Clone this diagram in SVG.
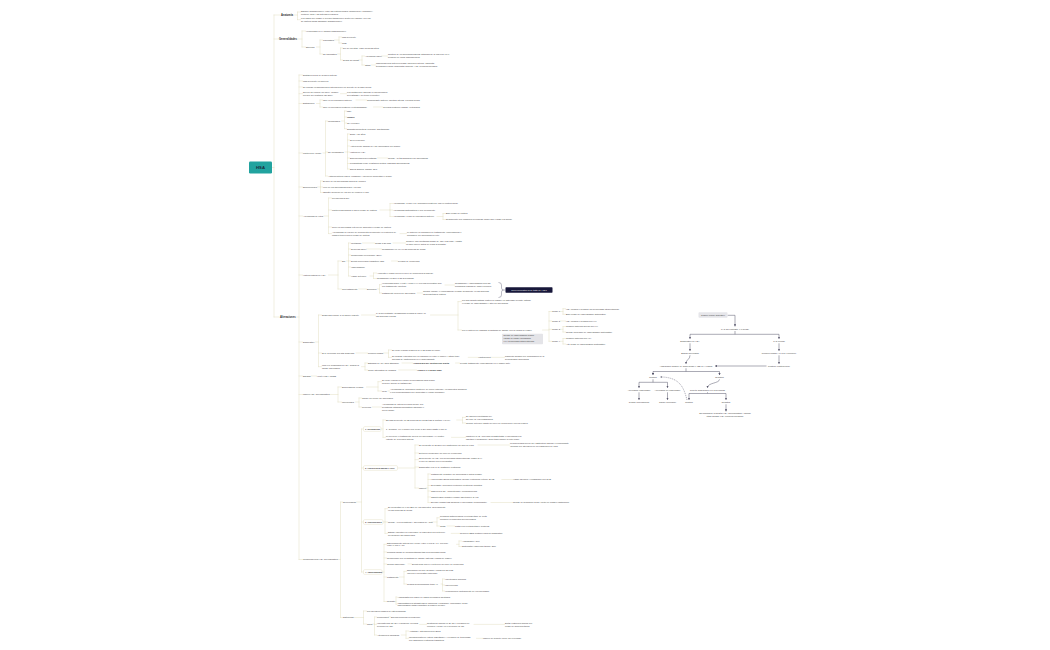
<svg xmlns="http://www.w3.org/2000/svg" width="1050" height="650" viewBox="0 0 1050 650">
<style>
text{font-family:"Liberation Sans",Arial,sans-serif;font-size:2.2px;fill:#3a3a3a}
.l1{font-size:2.6px;font-weight:bold;fill:#2c2c2c}
.b{font-weight:bold}
.c{fill:none;stroke:#e0dbbd;stroke-width:0.45;stroke-linecap:round}
.d{fill:none;stroke:#57566b;stroke-width:0.5}
.dd{fill:none;stroke:#57566b;stroke-width:0.45;stroke-dasharray:1.2 0.8}
.bx{fill:#fff;stroke:#e0dbbd;stroke-width:0.4}
.m{text-anchor:middle}
</style>
<defs>
<marker id="ah" viewBox="0 0 4 4" refX="3.6" refY="2" markerWidth="2.2" markerHeight="2.2" markerUnits="userSpaceOnUse" orient="auto"><path d="M0,0 L4,2 L0,4 z" fill="#57566b"/></marker>
</defs>
<rect width="1050" height="650" fill="#fff"/>

<g id="connectors">
<path class="c" d="M272,167.5 H274 M274,15 V317 M274,15 H280 M274,39 H278.5 M274,317 H279"/>
<path class="c" d="M293,15 H297.5 M297.5,12 V19.7 M297.5,12 H300.5 M297.5,19.7 H300.5"/>
<path class="c" d="M297,39 H302 M302,31 V47 M302,31 H305.5 M302,47 H305.5"/>
<path class="c" d="M316.5,47 H320 M320,40 V54 M320,40 H322.5 M320,54 H322.5"/>
<path class="c" d="M334.5,40 H339 M339,37 V43 M339,37 H341.5 M339,43 H341.5"/>
<path class="c" d="M337.5,54 H340.5 M340.5,48 V60 M340.5,48 H342.5 M340.5,60 H342.5"/>
<path class="c" d="M358.5,60 H362 M362,56 V65 M362,56 H364.5 M362,65 H364.5 M381.5,56 H387.5 M371,65 H375.5"/>
<path class="c" d="M296.5,317 H299 M299,75 V559.5 M299,75 H302.5 M299,81 H302.5 M299,87 H302.5 M299,93.7 H302.5 M299,103.5 H302.5 M299,153 H302.5 M299,187 H302.5 M299,216 H302.5 M299,275 H302.5 M299,342 H302.5 M299,376 H302.5 M299,394.5 H302.5 M299,559.5 H302.5"/>
<path class="c" d="M340.5,93.7 H346.5 M316.5,103.5 H320 M320,100 V107 M320,100 H322.5 M320,107 H322.5 M356,100 H366.5 M373.5,107 H382.5"/>
<path class="c" d="M323,153 H325.5 M325.5,121 V176 M325.5,121 H327.5 M325.5,152 H327.5 M325.5,176 H327.5"/>
<path class="c" d="M341.5,121 H344.5 M344.5,111 V128.7 M344.5,111 H346.5 M344.5,117 H346.5 M344.5,123 H346.5 M344.5,128.7 H346.5"/>
<path class="c" d="M345,152 H347.5 M347.5,134 V169 M347.5,134 H349.5 M347.5,140 H349.5 M347.5,146 H349.5 M347.5,152 H349.5 M347.5,158 H349.5 M347.5,163.5 H349.5 M347.5,169 H349.5 M377.5,158 H387.5"/>
<path class="c" d="M317.5,187 H320.5 M320.5,181 V192.5 M320.5,181 H322.5 M320.5,187 H322.5 M320.5,192.5 H322.5"/>
<path class="c" d="M324,216 H328.5 M328.5,198 V233.6 M328.5,198 H331.5 M328.5,210 H331.5 M328.5,227 H331.5 M328.5,233.6 H331.5"/>
<path class="c" d="M380,210 H390 M390,203.5 V216.5 M390,203.5 H392.5 M390,210 H392.5 M390,216.5 H392.5 M437,216.5 H443 M443,213.5 V219.5 M443,213.5 H445.5 M443,219.5 H445.5 M400,233.6 H406.5"/>
<path class="c" d="M328.5,275 H338 M338,261 V289 M338,261 H341.5 M338,289 H341.5"/>
<path class="c" d="M346.5,261 H348.5 M348.5,243 V276 M348.5,243 H350.5 M348.5,249 H350.5 M348.5,255 H350.5 M348.5,261 H350.5 M348.5,267 H350.5 M348.5,276 H350.5 M362.5,243 H374.5 M393,243 H405.5 M366.5,249 H381.5 M391.5,261 H397.5 M370,276 H373.5 M373.5,273 V278.5 M373.5,273 H376.5 M373.5,278.5 H376.5"/>
<path class="c" d="M358.7,289 H366.5 M377.2,289 H379.5 M379.5,284.7 V293 M379.5,284.7 H381.5 M379.5,293 H381.5 M445,285 H454.5 M417.2,293 H422.5"/>
<path class="c" d="M315.5,342 H318.5 M318.5,315 V366.7 M318.5,315 H321.5 M318.5,353 H321.5 M318.5,366.7 H321.5"/>
<path class="c" d="M361.5,315 H375.5 M430.5,315 H458 M458,301.6 V330 M458,301.6 H461.5 M458,330 H461.5 M542.5,330 H549 M549,311.5 V341.3 M549,311.5 H551.5 M549,321 H551.5 M549,329.3 H551.5 M549,341.3 H551.5"/>
<path class="c" d="M560,311.5 H563 M563,308.7 V314.3 M563,308.7 H565.5 M563,314.3 H565.5 M560,321 H565.5 M560,329.3 H563 M563,326.5 V332 M563,326.5 H565.5 M563,332 H565.5 M560,341.3 H563 M563,338.5 V344 M563,338.5 H565.5 M563,344 H565.5"/>
<path class="c" d="M356,353 H367.5 M383.6,353 H388.5 M388.5,350 V357.35 M388.5,350 H391.5 M388.5,357.35 H391.5 M468.2,357.35 H477.5 M490.5,357.35 H504.5"/>
<path class="c" d="M361.5,366.7 H365 M365,363 V370 M365,363 H367.5 M365,370 H367.5 M402,363 H412.5 M455.5,363 H459.5 M398.7,370 H416.5 M311.2,376 H316.5"/>
<path class="c" d="M329.5,394.5 H338 M338,387 V402 M338,387 H341.5 M338,402 H341.5 M366.5,387 H378 M378,381.7 V391 M378,381.7 H381.5 M378,391 H381.5 M388,391 H389.5 M355.5,402 H359 M359,398 V407 M359,398 H361.5 M359,407 H361.5 M372.2,407 H381.5"/>
<path class="c" d="M338,559.5 H340.5 M340.5,502 V617.5 M340.5,502 H342.5 M340.5,617.5 H342.5 M356.5,502 H361.5 M361.5,429 V572 M361.5,429 H363.5 M361.5,468 H363.5 M361.5,522 H363.5 M361.5,572 H363.5"/>
<path class="c" d="M381,429 H383 M383,420 V437.35 M383,420 H385.5 M383,437.35 H385.5 M456.7,420 H462.5 M462.5,417.35 V423 M462.5,417.35 H465.5 M462.5,423 H465.5 M451.5,437.35 H465.5"/>
<path class="c" d="M397.5,468 H415 M415,445 V488 M415,445 H418.5 M415,453 H418.5 M415,459.7 H418.5 M415,467 H418.5 M415,488 H418.5 M478,445 H509.5"/>
<path class="c" d="M426,488 H428 M428,474 V502.5 M428,474 H430.5 M428,479.5 H430.5 M428,485.5 H430.5 M428,491 H430.5 M428,497 H430.5 M428,502.5 H430.5 M501.8,479.5 H512.5 M491,502.5 H512.5"/>
<path class="c" d="M383,522 H385 M385,508.7 V533.4 M385,508.7 H387.5 M385,522 H387.5 M385,533.4 H387.5 M431.8,522 H437 M437,517.8 V526 M437,517.8 H439.5 M437,526 H439.5 M447,526 H454.5 M451.2,533.4 H459.5"/>
<path class="c" d="M382,572 H384 M384,544.3 V601.5 M384,544.3 H386.5 M384,552 H386.5 M384,558 H386.5 M384,564 H386.5 M384,577 H386.5 M384,601.5 H386.5 M456.5,544.3 H459 M459,541 V546.5 M459,541 H461.5 M459,546.5 H461.5 M408,564 H411.5"/>
<path class="c" d="M399.5,577 H404 M404,571.35 V584 M404,571.35 H406.5 M404,584 H406.5 M441,584 H442.5 M442.5,579 V591 M442.5,579 H444.5 M442.5,585 H444.5 M442.5,591 H444.5 M395,601.5 H396 M396,597 V604.1 M396,597 H397 M396,604.1 H397"/>
<path class="c" d="M354.5,617.5 H363.5 M363.5,611 V624 M363.5,611 H366.5 M363.5,624 H366.5 M373,624 H374.5 M374.5,617 V635 M374.5,617 H376.5 M374.5,624.4 H376.5 M374.5,635 H376.5 M388.5,617 H390.5 M419.7,624.4 H426.5 M474,624.4 H504.5 M401.3,635 H406 M406,631 V638.35 M406,631 H408.5 M406,638.35 H408.5 M476.5,638.35 H482.5"/>
<path d="M498.5,282.5 Q501.5,282.5 501.5,285 V288 Q501.5,290 503.5,290 Q501.5,290 501.5,292 V295 Q501.5,297.5 498.5,297.5 M503.5,290 H505.5" fill="none" stroke="#6a6a80" stroke-width="0.45"/>
<g id="flow-connectors">
<path class="d" d="M727.5,315.3 H735 V326.3" marker-end="url(#ah)"/>
<path class="d" d="M735,331 V334.3 H690 V338.8" marker-end="url(#ah)"/>
<path class="d" d="M735,334.3 H779 V338.8" marker-end="url(#ah)"/>
<path class="d" d="M690,343.3 V350.8" marker-end="url(#ah)"/>
<path class="d" d="M779,343.3 V350.8" marker-end="url(#ah)"/>
<path class="d" d="M690,355.3 C690,360 686,359 686,363.8" marker-end="url(#ah)"/>
<path class="d" d="M779,355.3 V363.8" marker-end="url(#ah)"/>
<path class="d" d="M766.5,366 H715" marker-end="url(#ah)"/>
<path class="d" d="M686,368.3 V371.5 H653 V375" marker-end="url(#ah)"/>
<path class="d" d="M686,371.5 H719.5 V375" marker-end="url(#ah)"/>
<path class="d" d="M653,379.3 V382.3 H639 V387.8" marker-end="url(#ah)"/>
<path class="d" d="M653,382.3 H667.5 V387.8" marker-end="url(#ah)"/>
<path class="d" d="M639,392.3 V399.8" marker-end="url(#ah)"/>
<path class="d" d="M667.5,392.3 V399.8" marker-end="url(#ah)"/>
<path class="d" d="M719.5,379.3 C719.5,383.5 707.5,382.5 707.5,387.8" marker-end="url(#ah)"/>
<path class="d" d="M707.5,392.3 V393.5 H689 V399.8" marker-end="url(#ah)"/>
<path class="d" d="M707.5,393.5 H726 V399.8" marker-end="url(#ah)"/>
<path class="dd" d="M687,400 C684,388 680,377 660.5,377" marker-end="url(#ah)"/>
<path class="d" d="M726,404.3 V411.3" marker-end="url(#ah)"/>
</g>
</g>

<g id="root"><rect x="249" y="161.5" width="23" height="12" rx="1.2" fill="#22a39f"/><text x="260.5" y="169" class="m" font-size="4.2" font-weight="bold" fill="#1b2838" style="font-size:4.2px;fill:#1b2838;font-weight:bold">HSA</text></g>

<g id="n-anatomia"><text x="281" y="15.9" class="l1">Anatomía</text></g>
<g id="n-a1"><text x="301" y="12.1">Espacio subaracnoideo: entre las leptomeninges (aracnoides y piamadre),</text><text x="301" y="14.8">contiene LCR y las arterias cerebrales</text></g>
<g id="n-a2"><text x="301" y="19.2">Los vasos que irrigan el cerebro transcurren dentro del espacio, por eso</text><text x="301" y="21.9">su ruptura causa sangrado subaracnoideo</text></g>

<g id="n-generalidades"><text x="279" y="39.9" class="l1">Generalidades</text></g>
<g id="n-g1"><text x="306" y="31.8">Hemorragia en el espacio subaracnoideo</text></g>
<g id="n-g2"><text x="306" y="47.8">Etiología</text></g>
<g id="n-g21"><text x="323" y="40.8">Traumática</text></g>
<g id="n-g211"><text x="342" y="37.8">Más frecuente</text></g>
<g id="n-g212"><text x="342" y="43.8">TCE</text></g>
<g id="n-g22"><text x="323" y="54.8">No traumática</text></g>
<g id="n-g221"><text x="343" y="48.8">5% de los ictus, edad media 55 años</text></g>
<g id="n-g222"><text x="343" y="60.8">Según su causa</text></g>
<g id="n-g2221"><text x="365" y="56.8">Aneurisma (85%)</text></g>
<g id="n-g2221a"><text x="388" y="55.45">Ruptura de un aneurisma sacular intracraneal, la mayoría en el</text><text x="388" y="58.15">polígono de Willis (bifurcaciones)</text></g>
<g id="n-g2222"><text x="365" y="65.8">Otras</text></g>
<g id="n-g2222a"><text x="376" y="64.45">Malformaciones arteriovenosas, disección arterial, vasculitis,</text><text x="376" y="67.15">trombosis venosa, angiopatía amiloide, HSA perimesencefálica</text></g>

<g id="n-alteraciones"><text x="280" y="317.9" class="l1">Alteraciones</text></g>
<g id="n-u1"><text x="303" y="75.8">Dilatación focal de la pared arterial</text></g>
<g id="n-u2"><text x="303" y="81.8">Más frecuente en mujeres</text></g>
<g id="n-u3"><text x="303" y="87.8">Se forman en bifurcaciones arteriales por un defecto de la capa media</text></g>
<g id="n-u4"><text x="303" y="93.15">Suelen ser únicos (70-80%), aunque</text><text x="303" y="95.85">pueden ser múltiples (20-30%)</text></g>
<g id="n-u41"><text x="347" y="93.15">Los múltiples se asocian a enfermedades</text><text x="347" y="95.85">hereditarias y del tejido conectivo</text></g>
<g id="n-u5"><text x="303" y="104.3">Distribución</text></g>
<g id="n-u51"><text x="323" y="100.8">85% en la circulación anterior</text></g>
<g id="n-u511"><text x="367" y="100.8">Comunicante anterior, carótida interna, cerebral media</text></g>
<g id="n-u52"><text x="323" y="107.8">15% en circulación posterior (vertebrobasilar)</text></g>
<g id="n-u521"><text x="383" y="107.8">Cerebral posterior, basilar, vertebrales</text></g>

<g id="n-fr"><text x="303" y="153.8">Factores de riesgo</text></g>
<g id="n-fr1"><text x="328" y="121.8">Modificables</text></g>
<g id="n-fr11"><text x="347" y="111.8" class="b">HTA</text></g>
<g id="n-fr12"><text x="347" y="117.8" class="b">Tabaco</text></g>
<g id="n-fr13"><text x="347" y="123.8">OH excesivo</text></g>
<g id="n-fr14"><text x="347" y="129.5">Simpaticomiméticos (cocaína, anfetaminas)</text></g>
<g id="n-fr2"><text x="328" y="152.8">No modificables</text></g>
<g id="n-fr21"><text x="350" y="134.8">Edad &gt; 50 años</text></g>
<g id="n-fr22"><text x="350" y="140.8">Sexo femenino</text></g>
<g id="n-fr23"><text x="350" y="146.8">Antecedente familiar de HSA/aneurisma (1er grado)</text></g>
<g id="n-fr24"><text x="350" y="152.8">Historia de HSA</text></g>
<g id="n-fr25"><text x="350" y="158.8">Enfermedades hereditarias</text></g>
<g id="n-fr251"><text x="388" y="158.8">Riesgo ↑ si ≥2 familiares con aneurismas</text></g>
<g id="n-fr26"><text x="350" y="164.3">Poliquistosis renal, coartación aórtica, displasia fibromuscular</text></g>
<g id="n-fr27"><text x="350" y="169.8">Ehlers-Danlos, Marfan, NF1</text></g>
<g id="n-fr3"><text x="328" y="176.8">Anticonceptivos orales, embarazo y puerperio aumentan el riesgo</text></g>

<g id="n-epi"><text x="303" y="187.8">Epidemiología</text></g>
<g id="n-epi1"><text x="323" y="181.8">El 80% de los aneurismas nunca se rompen</text></g>
<g id="n-epi2"><text x="323" y="187.8">90% de los aneurismas miden &lt;10 mm</text></g>
<g id="n-epi3"><text x="323" y="193.3">Tamaño promedio de los que se rompen: 7 mm</text></g>

<g id="n-nr"><text x="303" y="216.8">Aneurismas no rotos</text></g>
<g id="n-nr1"><text x="332" y="198.8">Prevalencia 2-3%</text></g>
<g id="n-nr2"><text x="332" y="210.8">Factores asociados a mayor riesgo de ruptura</text></g>
<g id="n-nr21"><text x="393" y="204.3">Aneurismas &gt;7 mm o de circulación posterior: mayor ruptura anual</text></g>
<g id="n-nr22"><text x="393" y="210.8">Aneurismas sintomáticos o con crecimiento</text></g>
<g id="n-nr23"><text x="393" y="217.3">Aneurismas &lt;7 mm de circulación anterior</text></g>
<g id="n-nr231"><text x="446" y="214.3">Bajo riesgo de ruptura</text></g>
<g id="n-nr232"><text x="446" y="220.3">Seguimiento con imágenes periódicas (angio-RM o angio-TC anual)</text></g>
<g id="n-nr3"><text x="332" y="227.8">Tener un aneurisma roto previo aumenta el riesgo de ruptura</text></g>
<g id="n-nr4"><text x="332" y="233.05">Aneurismas en los que se documenta crecimiento en controles de</text><text x="332" y="235.75">imagen tienen mayor riesgo de ruptura</text></g>
<g id="n-nr41"><text x="407" y="233.05">Lo anterior es indicación de tratamiento (endovascular o</text><text x="407" y="235.75">quirúrgico) del aneurisma no roto</text></g>

<g id="n-hn"><text x="303" y="275.8">Historia natural de HSA</text></g>
<g id="n-hn1"><text x="342" y="261.8">Sin</text></g>
<g id="n-hn11"><text x="351" y="243.8">Mortalidad</text></g>
<g id="n-hn111"><text x="375" y="243.8">Global a 30 días</text></g>
<g id="n-hn1111"><text x="406" y="242.45">Confiere una mortalidad global de 45% a 30 días, y hasta</text><text x="406" y="245.15">un 15% muere antes de llegar al hospital</text></g>
<g id="n-hn12"><text x="351" y="249.8">Secuelas (30%)</text></g>
<g id="n-hn121"><text x="382" y="249.8">Resangrado en 4% en las primeras 24 horas</text></g>
<g id="n-hn13"><text x="351" y="255.8">Compromiso neurológico (20%)</text></g>
<g id="n-hn14"><text x="351" y="261.8">Déficit neurológico transitorio (2/3)</text></g>
<g id="n-hn141"><text x="398" y="261.8">Pérdida de conciencia</text></g>
<g id="n-hn15"><text x="351" y="267.8">Vasoespasmo</text></g>
<g id="n-hn16"><text x="351" y="276.8">Vigilar deterioro</text></g>
<g id="n-hn161"><text x="377" y="273.8">Aumenta el riesgo con peor nivel de conciencia al ingreso</text></g>
<g id="n-hn162"><text x="377" y="279.3">Resangrado en 20% a las 2 semanas</text></g>
<g id="n-hn2"><text x="342" y="289.8">Con tratamiento</text></g>
<g id="n-hn21"><text x="367" y="289.8">Evolución</text></g>
<g id="n-hn211"><text x="382" y="284.15">Hemorragia grave (Hunt y Hess IV-V) con mal pronóstico aún</text><text x="382" y="286.85">con tratamiento oportuno</text></g>
<g id="n-hn2111"><text x="455" y="284.45">Resangrado y vasoespasmo son las</text><text x="455" y="287.15">principales causas de mala evolución</text></g>
<g id="n-hn212"><text x="382" y="293.8">Tratamiento precoz del aneurisma</text></g>
<g id="n-hn2121"><text x="423" y="292.45">Cirugía (clipaje) o endovascular (coiling) idealmente en las primeras</text><text x="423" y="295.15">72 horas tras la ruptura</text></g>
<g id="n-hn-sum"><rect x="505.5" y="287.3" width="47" height="5.4" rx="0.6" fill="#17173a"/><text x="529" y="290.8" class="m" style="fill:#fff">Mejor pronóstico si se trata en &lt;72 h</text></g>

<g id="n-dx"><text x="303" y="342.8">Diagnóstico</text></g>
<g id="n-dx1"><text x="322" y="315.8">Sospecha clínica: TAC simple urgente</text></g>
<g id="n-dx11"><text x="376" y="314.45">TAC sin contraste: sensibilidad cercana al 100% en</text><text x="376" y="317.15">las primeras 6 horas</text></g>
<g id="n-dx111"><text x="462" y="301.05">Por sus características (patrón de sangre en cisternas) permite estimar</text><text x="462" y="303.75">el riesgo de vasoespasmo y sitio del aneurisma</text></g>
<g id="n-dx112"><text x="462" y="330.8">Por lo anterior se clasifica la cantidad de sangre con la escala de Fisher</text></g>
<g id="n-note"><rect x="502" y="333.8" width="41" height="10.4" rx="0.8" fill="#e4e4e8"/><text x="503.5" y="336.4">Riesgo de vasoespasmo según</text><text x="503.5" y="339.1">escala de Fisher modificada</text><text x="503.5" y="341.8">HIV: hemorragia intraventricular</text></g>
<g id="n-gr1"><text x="552" y="312.3">Grado 1</text></g>
<g id="n-gr11"><text x="566" y="309.5">HSA mínima o delgada, sin hemorragia intraventricular</text></g>
<g id="n-gr12"><text x="566" y="315.1">Bajo riesgo de vasoespasmo sintomático</text></g>
<g id="n-gr2"><text x="552" y="321.8">Grado 2</text></g>
<g id="n-gr21"><text x="566" y="321.8">HSA mínima o delgada con HIV</text></g>
<g id="n-gr3"><text x="552" y="330.1">Grado 3</text></g>
<g id="n-gr31"><text x="566" y="327.3">Coágulo cisternal grueso sin HIV</text></g>
<g id="n-gr32"><text x="566" y="332.8">Riesgo moderado de vasoespasmo sintomático</text></g>
<g id="n-gr4"><text x="552" y="342.1">Grado 4</text></g>
<g id="n-gr41"><text x="566" y="339.3">Coágulo cisternal con HIV</text></g>
<g id="n-gr42"><text x="566" y="344.8">Alto riesgo de vasoespasmo sintomático</text></g>
<g id="n-dx2"><text x="322" y="353.8">Si TAC normal con alta sospecha</text></g>
<g id="n-dx21"><text x="368" y="353.8">Punción lumbar</text></g>
<g id="n-dx211"><text x="392" y="350.8">Se debe realizar después de 6-12 horas del inicio</text></g>
<g id="n-dx212"><text x="392" y="356.8">Se buscan eritrocitos que no disminuyen entre el primer y último tubo,</text><text x="392" y="359.5">además de xantocromía en el sobrenadante</text></g>
<g id="n-dx2121"><text x="478" y="358.15">Xantocromía</text></g>
<g id="n-dx21211"><text x="505" y="356.8">Pigmento amarillo por degradación de la</text><text x="505" y="359.5">hemoglobina (bilirrubina)</text></g>
<g id="n-dx3"><text x="322" y="366.15">Una vez confirmada la HSA, buscar la</text><text x="322" y="368.85">causa (aneurisma)</text></g>
<g id="n-dx31"><text x="368" y="363.8">Estándar de oro (gold standard)</text></g>
<g id="n-dx311"><text x="413" y="363.8" class="b">Angiografía por sustracción digital</text></g>
<g id="n-dx3111"><text x="460" y="363.8">Permite tratamiento endovascular en el mismo acto</text></g>
<g id="n-dx32"><text x="368" y="370.8">Como alternativa no invasiva</text></g>
<g id="n-dx321"><text x="417" y="370.8" class="b">AngioTAC o angio-RMN</text></g>

<g id="n-esc"><text x="303" y="376.8">Escalas</text></g>
<g id="n-esc1"><text x="317" y="376.8">Hunt-Hess y WFNS</text></g>

<g id="n-man"><text x="303" y="395.3">Manejo HSA aneurismática</text></g>
<g id="n-man1"><text x="342" y="387.8">Endovascular (coiling)</text></g>
<g id="n-man11"><text x="382" y="381.15">Se debe evaluar por equipo neurovascular para definir</text><text x="382" y="383.85">la mejor opción de tratamiento</text></g>
<g id="n-man12"><text x="382" y="391.8">Ideal</text></g>
<g id="n-man121"><text x="390" y="390.45">Aneurismas de circulación posterior, de cuello estrecho, en pacientes ancianos</text><text x="390" y="393.15">o con comorbilidades que aumentan el riesgo quirúrgico</text></g>
<g id="n-man2"><text x="342" y="402.8">Microcirugía</text></g>
<g id="n-man21"><text x="362" y="398.8">Clipaje del cuello del aneurisma</text></g>
<g id="n-man22"><text x="362" y="407.8">Preferida</text></g>
<g id="n-man221"><text x="382" y="405.1">Aneurismas de arteria cerebral media, con</text><text x="382" y="407.8">hematoma intraparenquimatoso asociado o</text><text x="382" y="410.5">cuello ancho</text></g>

<g id="n-comp"><text x="303" y="560.3">Complicaciones HSA aneurismática</text></g>
<g id="n-neuro"><text x="343" y="502.8">Neurológicas</text></g>
<g id="n-c1"><rect class="bx" x="363.5" y="426.6" width="17.5" height="4.8" rx="1.2"/><text x="365" y="429.8" class="b">1. Resangrado</text></g>
<g id="n-c11"><text x="386" y="420.8">Es más frecuente en las primeras 24 horas tras la ruptura (4-14%)</text></g>
<g id="n-c111"><text x="466" y="416.8">Se asocia a mortalidad del</text><text x="466" y="419.5">50-70% de los resangrados</text></g>
<g id="n-c112"><text x="466" y="423.8">Clínica: deterioro súbito del nivel de conciencia o nueva cefalea</text></g>
<g id="n-c12"><text x="386" y="429.8">1° semana: 4% el primer día; luego 1-2% diario hasta el día 14</text></g>
<g id="n-c13"><text x="386" y="436.8">Lo previene el tratamiento precoz del aneurisma y el control</text><text x="386" y="439.5">estricto de la presión arterial</text></g>
<g id="n-c131"><text x="466" y="436.8">Mantener PAS &lt;160 mmHg hasta tratar el aneurisma con</text><text x="466" y="439.5">labetalol o nicardipino; ácido tranexámico a corto plazo</text></g>
<g id="n-c2"><rect class="bx" x="363.5" y="465.6" width="34" height="4.8" rx="1.2"/><text x="365" y="468.8" class="b">2. Hidrocefalia aguda y HTIC</text></g>
<g id="n-c21"><text x="419" y="445.8">Se presenta en 20-30% por obstrucción del flujo de LCR</text></g>
<g id="n-c211"><text x="510" y="444.45">La hidrocefalia puede ser obstructiva (aguda) o comunicante</text><text x="510" y="447.15">(crónica) por alteración de la reabsorción de LCR</text></g>
<g id="n-c22"><text x="419" y="453.8">Deterioro progresivo del nivel de conciencia</text></g>
<g id="n-c23"><text x="419" y="459.15">Es frecuente en HSA con hemorragia intraventricular (Fisher 3-4),</text><text x="419" y="461.85">lo que se asocia a peor pronóstico</text></g>
<g id="n-c24"><text x="419" y="467.8">Diagnóstico con TAC: dilatación ventricular</text></g>
<g id="n-c25"><text x="419" y="488.8">Manejo</text></g>
<g id="n-c251"><text x="431" y="474.8">Tratamiento definitivo del aneurisma lo antes posible</text></g>
<g id="n-c252"><text x="431" y="480.3">Hidrocefalia aguda sintomática: drenaje ventricular externo (DVE)</text></g>
<g id="n-c2521"><text x="513" y="480.3">Vigilar infección y resangrado con DVE</text></g>
<g id="n-c253"><text x="431" y="486.3">Si persiste: derivación ventrículo-peritoneal definitiva</text></g>
<g id="n-c254"><text x="431" y="491.8">Cabecera a 30°, normotermia y normoglucemia</text></g>
<g id="n-c255"><text x="431" y="497.8">Osmoterapia (manitol o salino hipertónico) si HIC</text></g>
<g id="n-c256"><text x="431" y="503.3">Drenaje lumbar tras asegurar el aneurisma (comunicante)</text></g>
<g id="n-c2561"><text x="513" y="503.3">Riesgo de herniación si hay efecto de masa u obstrucción</text></g>
<g id="n-c3"><rect class="bx" x="363.5" y="519.6" width="19.5" height="4.8" rx="1.2"/><text x="365" y="522.8" class="b">3. Convulsiones</text></g>
<g id="n-c31"><text x="388" y="508.15">Se presentan en el 10-25% de los pacientes, generalmente</text><text x="388" y="510.85">en las primeras 24 horas</text></g>
<g id="n-c32"><text x="388" y="522.8">Riesgo ↑ con hematoma y aneurisma de ACM</text></g>
<g id="n-c321"><text x="440" y="517.25">Profilaxis anticonvulsiva (levetiracetam) de corta</text><text x="440" y="519.95">duración en pacientes seleccionados</text></g>
<g id="n-c322"><text x="440" y="526.8">Crisis</text></g>
<g id="n-c3221"><text x="455" y="526.8">Tratar con levetiracetam o fenitoína</text></g>
<g id="n-c33"><text x="388" y="532.85">Estado epiléptico no convulsivo en pacientes con deterioro</text><text x="388" y="535.55">del sensorio sin causa clara</text></g>
<g id="n-c331"><text x="460" y="534.2">Requiere EEG continuo para su diagnóstico</text></g>
<g id="n-c4"><rect class="bx" x="363.5" y="569.6" width="18.5" height="4.8" rx="1.2"/><text x="365" y="572.8" class="b">4. Vasoespasmo</text></g>
<g id="n-c41"><text x="387" y="543.75">Estrechamiento arterial que ocurre entre el día 3 y 14, con pico</text><text x="387" y="546.45">entre el día 7 y 10</text></g>
<g id="n-c411"><text x="462" y="541.8">Angiográfico: 70%</text></g>
<g id="n-c412"><text x="462" y="547.3">Sintomático (isquemia tardía): 30%</text></g>
<g id="n-c42"><text x="387" y="552.8">Principal causa de morbimortalidad tras la hemorragia inicial</text></g>
<g id="n-c43"><text x="387" y="558.8">Relacionado con la cantidad de sangre cisternal (escala de Fisher)</text></g>
<g id="n-c44"><text x="387" y="564.8">Clínica (isquemia):</text></g>
<g id="n-c441"><text x="412" y="564.8">Déficit focal nuevo o deterioro del nivel de conciencia</text></g>
<g id="n-c45"><text x="387" y="577.8">Tratamiento</text></g>
<g id="n-c451"><text x="407" y="570.8">Nimodipino 60 mg VO cada 4 horas por 21 días</text><text x="407" y="573.5">(mejora el pronóstico funcional)</text></g>
<g id="n-c452"><text x="407" y="584.8">Terapia hemodinámica (triple H)</text></g>
<g id="n-c4521"><text x="445" y="579.8">Hipertensión inducida</text></g>
<g id="n-c4522"><text x="445" y="585.8">Hipervolemia</text></g>
<g id="n-c4523"><text x="445" y="591.8">Hemodilución (actualmente no recomendada)</text></g>
<g id="n-c46"><text x="387" y="602.3">Rescate</text></g>
<g id="n-c461"><text x="397.5" y="597.8">Angioplastia con balón en vasos proximales afectados</text></g>
<g id="n-c462"><text x="397.5" y="603.55">Vasodilatadores intraarteriales (milrinona, verapamilo, nimodipino) si hay</text><text x="397.5" y="606.25">vasoespasmo distal refractario al manejo médico</text></g>
<g id="n-sis"><text x="343" y="618.3">Sistémicas</text></g>
<g id="n-s1"><text x="367" y="611.8">Por liberación masiva de catecolaminas</text></g>
<g id="n-s2"><text x="367" y="624.8">Tipos</text></g>
<g id="n-s21"><text x="377" y="617.8">Pulmonares</text></g>
<g id="n-s211"><text x="391" y="617.8">Edema pulmonar neurogénico</text></g>
<g id="n-s22"><text x="377" y="623.85">Hiponatremia (SIADH o síndrome cerebral</text><text x="377" y="626.55">perdedor de sal)</text></g>
<g id="n-s221"><text x="427" y="623.85">Restricción hídrica en SIADH; reposición de</text><text x="427" y="626.55">volumen y sodio en el perdedor de sal</text></g>
<g id="n-s2211"><text x="505" y="623.85">Evitar restricción hídrica por</text><text x="505" y="626.55">riesgo de isquemia tardía</text></g>
<g id="n-s23"><text x="377" y="635.8">Alteraciones cardiacas</text></g>
<g id="n-s231"><text x="409" y="631.8">Arritmias y alteraciones del ECG</text></g>
<g id="n-s232"><text x="409" y="637.8">Miocardiopatía de estrés (Takotsubo) y elevación de troponinas</text><text x="409" y="640.5">con disfunción ventricular transitoria</text></g>
<g id="n-s2321"><text x="483" y="639.15">Manejo de soporte; suele ser reversible</text></g>

<g id="flow">
<g id="f-n0"><rect x="698.5" y="312.2" width="29" height="5.6" rx="0.8" fill="#e6e6ea"/><text x="713" y="315.9" class="m">Cuadro clínico sugestivo</text></g>
<g id="f-n1"><text x="735" y="329.8" class="m">TAC sin contraste (&lt;6 horas)</text></g>
<g id="f-n2"><text x="690" y="341.8" class="m">Diagnóstico de HSA</text></g>
<g id="f-n3"><text x="779" y="341.8" class="m">TAC normal</text></g>
<g id="f-n4"><text x="690" y="353.8" class="m">Buscar aneurisma</text></g>
<g id="f-n5"><text x="779" y="353.8" class="m">Punción lumbar (&gt;6 h de evolución)</text></g>
<g id="f-n6"><text x="686" y="366.8" class="m">Angiografía (angioTAC, angio-RMN o ASD de 4 vasos)</text></g>
<g id="f-n7"><text x="779" y="366.8" class="m">Positiva (xantocromía)</text></g>
<g id="f-n8"><text x="653" y="377.8" class="m">Positiva</text></g>
<g id="f-n9"><text x="719.5" y="377.8" class="m">Negativa</text></g>
<g id="f-n10"><text x="639" y="390.8" class="m">Aneurisma embolizable</text></g>
<g id="f-n11"><text x="667.5" y="390.8" class="m">Aneurisma no embolizable</text></g>
<g id="f-n12"><text x="639" y="402.8" class="m">Coiling endovascular</text></g>
<g id="f-n13"><text x="667.5" y="402.8" class="m">Clipaje quirúrgico</text></g>
<g id="f-n14"><text x="707.5" y="390.8" class="m">Repetir angiografía en 1-2 semanas</text></g>
<g id="f-n15"><text x="689" y="402.8" class="m">Positiva</text></g>
<g id="f-n16"><text x="726" y="402.8" class="m">Negativa</text></g>
<g id="f-n17"><text x="725" y="414.3" class="m">Sin hallazgos: descartar HSA aneurismática y buscar</text><text x="725" y="417" class="m">otras causas (HSA perimesencefálica)</text></g>
</g>
</svg>
